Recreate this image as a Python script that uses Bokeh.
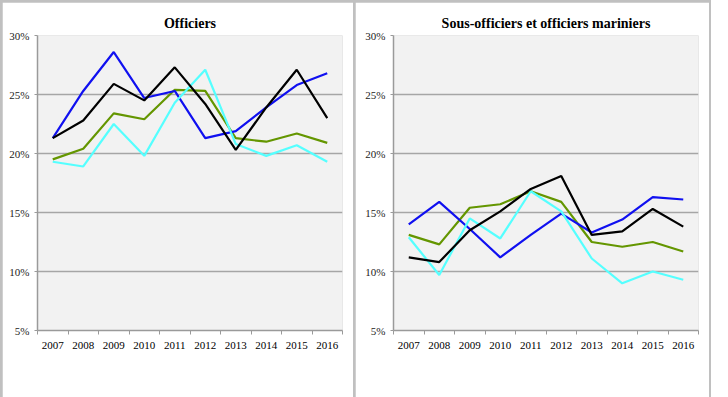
from bokeh.plotting import figure
from bokeh.models import FixedTicker, PrintfTickFormatter, Legend, LegendItem, Range1d
from bokeh.layouts import row
from bokeh.embed import file_html
from bokeh.resources import INLINE

years = [2007, 2008, 2009, 2010, 2011, 2012, 2013, 2014, 2015, 2016]
y_ticks = [5, 10, 15, 20, 25, 30]

off_terre = [19.5, 20.4, 23.4, 22.9, 25.4, 25.3, 21.3, 21.0, 21.7, 20.9]
off_marine = [21.3, 25.3, 28.6, 24.7, 25.3, 21.3, 21.9, 23.9, 25.8, 26.8]
off_air = [19.3, 18.9, 22.5, 19.8, 24.3, 27.1, 20.8, 19.8, 20.7, 19.3]
off_gend = [21.3, 22.8, 25.9, 24.5, 27.3, 24.2, 20.3, 23.9, 27.1, 23.0]

sof_terre = [13.1, 12.3, 15.4, 15.7, 16.8, 15.9, 12.5, 12.1, 12.5, 11.7]
sof_marine = [14.0, 15.9, 13.6, 11.2, 13.1, 14.9, 13.3, 14.4, 16.3, 16.1]
sof_air = [12.9, 9.7, 14.5, 12.8, 16.8, 15.1, 11.1, 9.0, 10.0, 9.3]
sof_gend = [11.2, 10.8, 13.5, 15.1, 17.0, 18.1, 13.1, 13.4, 15.3, 13.8]

series_names = ["Terre", "Marine", "Air", "Gendarmerie"]
colors = ["#649600", "#1010f0", "#55ffff", "#000000"]
FONT = "Liberation Serif"


def make_panel(title, series, mb_left, title_offset, margin):
    p = figure(frame_width=305, frame_height=295, output_backend="svg",
               toolbar_location=None,
               x_range=Range1d(2006.5, 2016.5), y_range=Range1d(5, 30),
               min_border_left=mb_left, min_border_right=11, min_border_top=33,
               min_border_bottom=48)
    p.margin = margin
    p.title.text = title
    p.title.align = "center"
    p.title.offset = title_offset
    p.title.text_font = FONT
    p.title.text_font_size = "14px"
    p.title.text_font_style = "bold"
    p.title.text_color = "#000000"
    p.background_fill_color = "#f2f2f2"
    p.border_fill_color = "#ffffff"
    p.outline_line_color = None

    items = []
    for name, vals, c in zip(series_names, series, colors):
        r = p.line(years, vals, line_color=c, line_width=2.2)
        items.append(LegendItem(label=name, renderers=[r]))

    xa = p.xaxis[0]
    xa.ticker = FixedTicker(ticks=years, minor_ticks=[y + 0.5 for y in [2006] + years])
    xa.major_tick_line_color = None
    xa.minor_tick_line_color = "#9a9a9a"
    xa.minor_tick_out = 4
    xa.minor_tick_in = 0
    xa.axis_line_color = "#9a9a9a"
    xa.axis_line_width = 1.5
    xa.major_label_text_font = FONT
    xa.major_label_text_font_size = "11px"
    xa.major_label_text_color = "#000000"

    ya = p.yaxis[0]
    ya.ticker = FixedTicker(ticks=y_ticks)
    ya.formatter = PrintfTickFormatter(format="%d%%")
    ya.minor_tick_line_color = None
    ya.major_tick_line_color = "#9a9a9a"
    ya.major_tick_out = 3
    ya.major_tick_in = 0
    ya.axis_line_color = "#9a9a9a"
    ya.axis_line_width = 1.5
    ya.major_label_text_font = FONT
    ya.major_label_text_font_size = "11px"
    ya.major_label_text_color = "#222222"

    p.xgrid.grid_line_color = None
    p.ygrid.grid_line_color = "#a6a6a6"
    p.ygrid.grid_line_width = 1.5

    leg = Legend(items=items, orientation="horizontal", location="center")
    leg.label_text_font = FONT
    leg.label_text_font_size = "12px"
    leg.label_text_color = "#000000"
    leg.glyph_width = 24
    leg.glyph_height = 12
    leg.label_height = 12
    leg.label_standoff = 4
    leg.spacing = 13
    leg.padding = 3
    leg.margin = 3
    leg.border_line_color = "#7f7f7f"
    leg.border_line_width = 2
    leg.background_fill_color = "#ffffff"
    p.add_layout(leg, "below")
    return p


p1 = make_panel("Officiers", [off_terre, off_marine, off_air, off_gend], 35, -9,
                (2, 1, 2, 2))
p2 = make_panel("Sous-officiers et officiers mariniers",
                [sof_terre, sof_marine, sof_air, sof_gend], 38, -13,
                (2, 2, 2, 1))

layout = row(p1, p2, background="#c0c0c0")
open("out.html", "w").write(file_html(layout, INLINE))
